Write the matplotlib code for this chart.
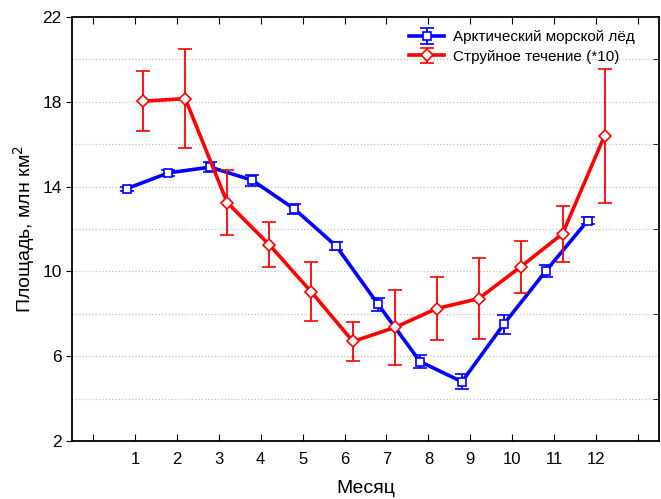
import matplotlib.pyplot as plt
import numpy as np

plt.rcParams['font.family'] = ['Liberation Sans', 'DejaVu Sans']

months = np.arange(1, 13)
led = [13.9, 14.65, 14.92, 14.3, 12.95, 11.2, 8.45, 5.75, 4.8, 7.52, 10.02, 12.4]
led_err = [0.1, 0.15, 0.25, 0.25, 0.25, 0.2, 0.3, 0.3, 0.35, 0.45, 0.3, 0.15]
tech = [18.03, 18.15, 13.25, 11.27, 9.05, 6.7, 7.36, 8.25, 8.72, 10.22, 11.78, 16.4]
tech_err = [1.4, 2.35, 1.53, 1.06, 1.4, 0.9, 1.75, 1.47, 1.9, 1.22, 1.32, 3.15]

fig = plt.figure(figsize=(6.61, 4.99), dpi=100)
ax = fig.add_axes([0.109, 0.116, 0.888, 0.85])

ax.errorbar(months - 0.2, led, yerr=led_err, color='#0000ff', lw=2.6,
            marker='s', ms=6, mfc='white', mec='#0000ff', mew=1.2,
            ecolor='#0000ff', elinewidth=1.3, capsize=5, capthick=1.3,
            label='Арктический морской лёд', zorder=3)
ax.errorbar(months + 0.2, tech, yerr=tech_err, color='#ff0000', lw=2.6,
            marker='D', ms=6, mfc='white', mec='#ff0000', mew=1.2,
            ecolor='#ff0000', elinewidth=1.3, capsize=5, capthick=1.3,
            label='Струйное течение (*10)', zorder=4)

ax.set_xlim(-0.5, 13.5)
ax.set_ylim(2, 22)
ax.set_xticks(np.arange(0, 14))
ax.set_xticklabels([''] + [str(m) for m in months] + [''])
ax.set_yticks([2, 6, 10, 14, 18, 22])
ax.set_yticks(np.arange(4, 22, 2), minor=True)
ax.grid(axis='y', which='both', color='#c0c0c0', ls=':', lw=0.9)
ax.set_axisbelow(True)

ax.tick_params(axis='x', direction='in', top=True, length=5, labelsize=12, pad=8)
ax.tick_params(axis='y', which='major', direction='out', length=4, labelsize=12.5)
ax.tick_params(axis='y', which='minor', left=False, right=True, direction='in', length=4)
for s in ax.spines.values():
    s.set_linewidth(1.3)

ax.set_xlabel('Месяц', fontsize=14, labelpad=9)
ax.set_ylabel('Площадь, млн км$^2$', fontsize=14)

ax.legend(loc='upper right', frameon=False, fontsize=11, bbox_to_anchor=(0.975, 0.99),
          handlelength=2.3, borderaxespad=0.2, labelspacing=0.35, handletextpad=0.6)

fig.savefig('out.png', dpi=100)
